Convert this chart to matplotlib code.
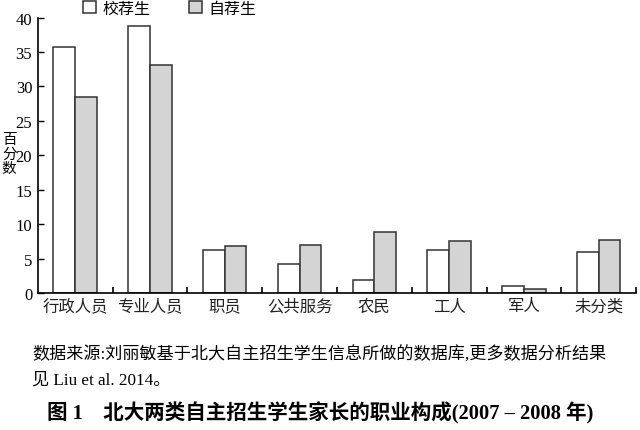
import numpy as np
import matplotlib.pyplot as plt
from matplotlib.patches import Patch

plt.rcParams['font.family'] = ['Liberation Serif', 'Noto Sans CJK SC']

categories = ['行政人员', '专业人员', '职员', '公共服务', '农民', '工人', '军人', '未分类']
school_rec = [35.7, 38.7, 6.3, 4.2, 1.9, 6.3, 1.0, 6.0]
self_rec = [28.5, 33.1, 6.8, 7.0, 8.9, 7.5, 0.6, 7.7]
series_names = ['校荐生', '自荐生']

fig = plt.figure(figsize=(6.4, 4.31), dpi=100)
ax = fig.add_axes([0.059, 0.318, 0.935, 0.639])

x = np.arange(len(categories))
w = 0.29
ax.bar(x - w / 2, school_rec, w, color='white', edgecolor='#333333', linewidth=1.1)
ax.bar(x + w / 2, self_rec, w, color='#d4d4d4', edgecolor='#333333', linewidth=1.1)

ax.set_xlim(-0.5, len(categories) - 0.5)
ax.set_ylim(0, 40)
ax.set_yticks(range(0, 41, 5))
ax.set_xticks(x)
ax.set_xticklabels(categories, fontsize=11.8)
ax.set_xticks(np.arange(0.5, len(categories), 1), minor=True)
ax.tick_params(axis='x', which='major', length=0, pad=4, colors='#222222')
ax.tick_params(axis='x', which='minor', direction='in', length=4, width=1.2)
ax.tick_params(axis='y', direction='in', length=4, width=1.0, labelsize=12, pad=4)
for s in ['top', 'right']:
    ax.spines[s].set_visible(False)
for s in ['left', 'bottom']:
    ax.spines[s].set_linewidth(1.2)

fig.text(0.003, 0.64, '百\n分\n数', fontsize=10.5, va='center', ha='left', linespacing=1.1)

handles = [Patch(facecolor='white', edgecolor='#333333', linewidth=1.1),
           Patch(facecolor='#d4d4d4', edgecolor='#333333', linewidth=1.1)]
fig.legend(handles, series_names, loc='center', bbox_to_anchor=(0.265, 0.977), ncol=2,
           frameon=False, fontsize=11.5, handlelength=0.8, handleheight=0.8,
           handletextpad=0.4, columnspacing=2.4)

fig.text(0.05, 0.176, '数据来源:刘丽敏基于北大自主招生学生信息所做的数据库,更多数据分析结果',
         fontsize=12.3, va='center', ha='left')
fig.text(0.05, 0.116, '见 Liu et al. 2014。', fontsize=12.3, va='center', ha='left')
fig.text(0.073, 0.041, '图 1    北大两类自主招生学生家长的职业构成(2007 – 2008 年)',
         fontsize=14.8, fontweight='bold', va='center', ha='left')

fig.savefig('out.png', dpi=100)
